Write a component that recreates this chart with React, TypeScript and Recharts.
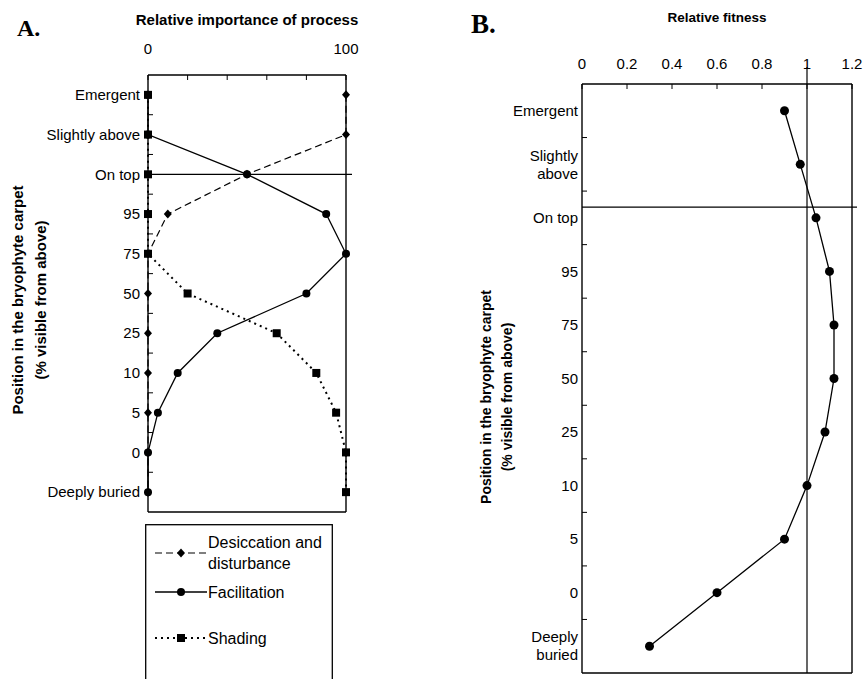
import React from "react";
import { LineChart, Line, XAxis, YAxis, ReferenceLine } from "recharts";

// positions in the bryophyte carpet, top to bottom
const positions = [
  "Emergent",
  "Slightly above",
  "On top",
  "95",
  "75",
  "50",
  "25",
  "10",
  "5",
  "0",
  "Deeply buried",
];

// panel A: relative importance of process (%)
const desiccation = [100, 100, 50, 10, 0, 0, 0, 0, 0, 0, 0];
const facilitation = [0, 0, 50, 90, 100, 80, 35, 15, 5, 0, 0];
const shading = [0, 0, 0, 0, 0, 20, 65, 85, 95, 100, 100];

// panel B: relative fitness
const fitness = [0.9, 0.97, 1.04, 1.1, 1.12, 1.12, 1.08, 1.0, 0.9, 0.6, 0.3];

const importanceTicks = [0, 20, 40, 60, 80, 100];
const importanceLabels = [0, 100];
const fitnessTicks = [0, 0.2, 0.4, 0.6, 0.8, 1, 1.2];

const rowsA = positions.map((pos, i) => ({
  pos,
  desiccation: desiccation[i],
  facilitation: facilitation[i],
  shading: shading[i],
}));
const rowsB = positions.map((pos, i) => ({ pos, fitness: fitness[i] }));

const FONT = "'Liberation Sans', Arial, sans-serif";
const INK = "#000";

// plot heights, used to put each category in the middle of its band
const PLOT_A = 437;
const PLOT_B = 589;
const HALF_A = PLOT_A / positions.length / 2;
const HALF_B = PLOT_B / positions.length / 2;

const Diamond = (p: any) =>
  p.cx == null ? null : (
    <polygon
      key={`d-${p.index}`}
      points={`${p.cx},${p.cy - 4.5} ${p.cx + 4},${p.cy} ${p.cx},${p.cy + 4.5} ${p.cx - 4},${p.cy}`}
      fill={INK}
    />
  );
const Dot = (p: any) =>
  p.cx == null ? null : <circle key={`c-${p.index}`} cx={p.cx} cy={p.cy} r={4} fill={INK} />;
const BigDot = (p: any) =>
  p.cx == null ? null : <circle key={`b-${p.index}`} cx={p.cx} cy={p.cy} r={4.5} fill={INK} />;
const Square = (p: any) =>
  p.cx == null ? null : (
    <rect key={`s-${p.index}`} x={p.cx - 4} y={p.cy - 4} width={8} height={8} fill={INK} />
  );

const seriesA = [
  { key: "desiccation", label: ["Desiccation and", "disturbance"], dash: "7 4", width: 1.2, dot: Diamond },
  { key: "facilitation", label: ["Facilitation"], dash: undefined, width: 1.3, dot: Dot },
  { key: "shading", label: ["Shading"], dash: "2 4", width: 2, dot: Square },
];

// category label + small inward tick on the band edge below it
const CategoryTick = (props: any) => {
  const { x, y, payload, index, visibleTicksCount, half, gap, wrap } = props;
  const text: string = String(payload.value);
  const lines = wrap && text.length > 8 && text.includes(" ") ? text.split(" ") : [text];
  const axisX = x + gap;
  return (
    <g>
      <text x={x} y={y} textAnchor="end" fill={INK} fontSize={15} fontFamily={FONT}>
        {lines.map((l, i) => (
          <tspan key={i} x={x} dy={i === 0 ? `${0.35 - (lines.length - 1) * 0.6}em` : "1.2em"}>
            {l}
          </tspan>
        ))}
      </text>
      {index < visibleTicksCount - 1 && (
        <line x1={axisX} x2={axisX + 5} y1={y + half} y2={y + half} stroke={INK} strokeWidth={1} />
      )}
    </g>
  );
};

const yTitle = (x1: number, x2: number, cy: number, size: number) => (
  <g fontFamily={FONT} fontWeight="bold" fontSize={size} fill={INK}>
    <text x={x1} y={cy} textAnchor="middle" dominantBaseline="central" transform={`rotate(-90, ${x1}, ${cy})`}>
      Position in the bryophyte carpet
    </text>
    <text x={x2} y={cy} textAnchor="middle" dominantBaseline="central" transform={`rotate(-90, ${x2}, ${cy})`}>
      (% visible from above)
    </text>
  </g>
);

// horizontal line drawn a little past the right edge, optionally nudged up
const hLine = (extra: number, shift: number) => (p: any) =>
  <line x1={p.x1} x2={p.x2 + extra} y1={p.y1 - shift} y2={p.y2 - shift} stroke={INK} strokeWidth={1.2} />;
const vLine = (extra: number) => (p: any) =>
  <line x1={p.x1} x2={p.x2} y1={Math.min(p.y1, p.y2) - extra} y2={Math.max(p.y1, p.y2)} stroke={INK} strokeWidth={1.2} />;

const EmptyTick = () => <g />;

// bottom and right axes only close the plot box
const boxAxes = (domain: [number, number]) => [
  <XAxis
    key="bx"
    xAxisId="bottom"
    type="number"
    orientation="bottom"
    domain={domain}
    height={1}
    tick={EmptyTick}
    tickLine={false}
    axisLine={{ stroke: INK, strokeWidth: 1.4 }}
  />,
  <YAxis
    key="ry"
    yAxisId="right"
    type="category"
    dataKey="pos"
    orientation="right"
    width={1}
    tick={EmptyTick}
    tickLine={false}
    axisLine={{ stroke: INK, strokeWidth: 1.4 }}
  />,
];

const PanelA = () => (
  <LineChart width={370} height={520} data={rowsA} layout="vertical" margin={{ top: 30, right: 23, bottom: 7, left: 38 }}>
    <XAxis
      type="number"
      orientation="top"
      domain={[0, 100]}
      ticks={importanceTicks}
      interval={0}
      tickFormatter={(v: number) => (importanceLabels.includes(v) ? String(v) : "")}
      axisLine={{ stroke: INK, strokeWidth: 1.4 }}
      stroke={INK}
      tickSize={-5}
      tickMargin={26}
      height={45}
      tick={{ fill: INK, fontSize: 15, fontFamily: FONT }}
    />
    <YAxis
      type="category"
      dataKey="pos"
      width={110}
      interval={0}
      padding={{ top: HALF_A, bottom: HALF_A }}
      tickLine={false}
      axisLine={{ stroke: INK, strokeWidth: 1.4 }}
      tickSize={0}
      tickMargin={8}
      tick={<CategoryTick half={HALF_A} gap={8} wrap={false} />}
    />
    {boxAxes([0, 100])}
    <ReferenceLine y="On top" stroke={INK} shape={hLine(6, 0)} />
    {seriesA.map((s) => (
      <Line
        key={s.key}
        dataKey={s.key}
        type="linear"
        stroke={INK}
        strokeWidth={s.width}
        strokeDasharray={s.dash}
        dot={s.dot}
        activeDot={false}
        isAnimationActive={false}
      />
    ))}
    <text x={247} y={19} textAnchor="middle" dominantBaseline="central" fontFamily={FONT} fontWeight="bold" fontSize={15} fill={INK}>
      Relative importance of process
    </text>
    {yTitle(17, 40, 300, 15)}
  </LineChart>
);

const PanelB = () => (
  <LineChart width={433} height={679} data={rowsB} layout="vertical" margin={{ top: 44, right: 10, bottom: 5, left: 52 }}>
    <XAxis
      type="number"
      orientation="top"
      domain={[0, 1.2]}
      ticks={fitnessTicks}
      interval={0}
      axisLine={{ stroke: INK, strokeWidth: 1.4 }}
      stroke={INK}
      tickSize={-5}
      tickMargin={20}
      height={40}
      tick={{ fill: INK, fontSize: 15, fontFamily: FONT }}
    />
    <YAxis
      type="category"
      dataKey="pos"
      width={100}
      interval={0}
      padding={{ top: HALF_B, bottom: HALF_B }}
      tickLine={false}
      axisLine={{ stroke: INK, strokeWidth: 1.4 }}
      tickSize={0}
      tickMargin={4}
      tick={<CategoryTick half={HALF_B} gap={4} wrap />}
    />
    {boxAxes([0, 1.2])}
    <ReferenceLine y="On top" stroke={INK} shape={hLine(5, HALF_B * 0.4)} />
    <ReferenceLine x={1} stroke={INK} shape={vLine(17)} />
    <Line
      dataKey="fitness"
      type="linear"
      stroke={INK}
      strokeWidth={1.3}
      dot={BigDot}
      activeDot={false}
      isAnimationActive={false}
    />
    <text x={287} y={17} textAnchor="middle" dominantBaseline="central" fontFamily={FONT} fontWeight="bold" fontSize={13.5} fill={INK}>
      Relative fitness
    </text>
    {yTitle(56, 77, 397, 14)}
  </LineChart>
);

const LegendA = () => (
  <svg width={188} height={160} style={{ position: "absolute", left: 145, top: 524 }}>
    <rect x={0.7} y={0.7} width={186.6} height={200} fill="none" stroke={INK} strokeWidth={1.3} />
    {seriesA.map((s, i) => {
      const y = [29, 68, 114][i];
      const Mark = s.dot;
      return (
        <g key={s.key}>
          <line x1={10} x2={62} y1={y} y2={y} stroke={INK} strokeWidth={s.width} strokeDasharray={s.dash} />
          <Mark cx={36} cy={y} index={i} />
          {s.label.map((t, j) => (
            <text
              key={j}
              x={63}
              y={y + (j - (s.label.length - 1) / 2) * 21}
              dominantBaseline="central"
              fontFamily={FONT}
              fontSize={16}
              fill={INK}
            >
              {t}
            </text>
          ))}
        </g>
      );
    })}
  </svg>
);

export default function App() {
  return (
    <div style={{ position: "absolute", left: 0, top: 0, width: 863, height: 679, overflow: "hidden", background: "#fff" }}>
      <div style={{ position: "absolute", left: 0, top: 0 }}>
        <PanelA />
      </div>
      <div style={{ position: "absolute", left: 430, top: 0 }}>
        <PanelB />
      </div>
      <LegendA />
      <svg width={863} height={60} style={{ position: "absolute", left: 0, top: 0, pointerEvents: "none" }}>
        <text x={17} y={36} fontFamily="'Liberation Serif', 'Times New Roman', serif" fontWeight="bold" fontSize={24} fill={INK}>
          A.
        </text>
        <text x={471} y={33} fontFamily="'Liberation Serif', 'Times New Roman', serif" fontWeight="bold" fontSize={27} fill={INK}>
          B.
        </text>
      </svg>
    </div>
  );
}
